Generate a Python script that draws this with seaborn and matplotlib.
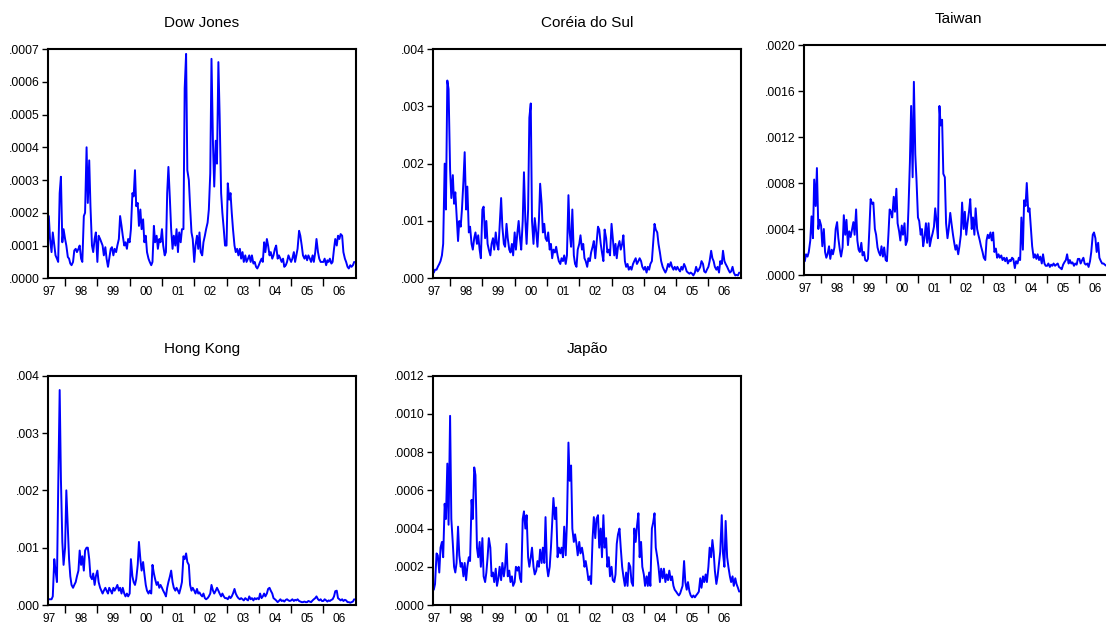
import numpy as np
import pandas as pd
import matplotlib
matplotlib.use("Agg")
import matplotlib.pyplot as plt
import seaborn as sns

sns.set_theme(style="white")
plt.rcParams["font.family"] = ["Liberation Sans", "DejaVu Sans"]

# Semi-monthly conditional variance estimates, Jul 1997 - Dec 2006
# (values in units of 1e-4 for Dow, Taiwan, Japan; 1e-3 for Korea, Hong Kong)
dow_jones = [
    1.9, 1.2, 0.8, 1.4, 1.0, 0.7, 0.6, 0.5, 2.6, 3.1, 1.1, 1.5,
    1.2, 1.0, 0.65, 0.6, 0.45, 0.4, 0.5, 0.85, 0.9, 0.8, 0.9, 1.0,
    0.6, 0.5, 1.9, 2.0, 4.0, 2.3, 3.6, 2.2, 1.0, 0.8, 1.2, 1.4,
    0.5, 1.3, 1.2, 1.1, 1.0, 0.7, 0.95, 0.6, 0.35, 0.6, 0.9, 0.95,
    0.7, 0.9, 0.8, 1.0, 1.2, 1.9, 1.6, 1.3, 1.0, 1.1, 0.9, 1.2,
    1.1, 1.5, 2.6, 2.5, 3.3, 2.2, 2.3, 1.6, 2.1, 1.5, 1.8, 1.1,
    1.3, 0.8, 0.6, 0.5, 0.4, 0.5, 1.6, 1.1, 1.3, 0.9, 1.2, 1.1,
    1.5, 1.0, 0.7, 0.8, 2.6, 3.4, 2.4, 1.5, 0.9, 1.3, 1.0, 1.5,
    0.8, 1.4, 1.1, 1.5, 1.5, 5.8, 6.85, 3.3, 3.0, 2.2, 1.4, 1.2,
    0.5, 1.0, 1.3, 0.9, 1.4, 0.8, 0.7, 1.1, 1.3, 1.5, 1.7, 2.1,
    3.2, 6.7, 4.1, 2.8, 4.2, 3.5, 6.6, 5.0, 2.6, 2.0, 1.5, 1.0,
    1.0, 2.9, 2.4, 2.6, 2.0, 1.5, 1.0, 0.8, 0.9, 0.7, 0.9, 0.6,
    0.8, 0.5, 0.7, 0.5, 0.6, 0.7, 0.5, 0.7, 0.45, 0.5, 0.35, 0.3,
    0.4, 0.5, 0.6, 0.5, 1.1, 0.8, 1.2, 1.0, 0.7, 0.8, 0.6, 0.7,
    0.9, 1.0, 0.6, 0.7, 0.6, 0.5, 0.6, 0.35, 0.4, 0.5, 0.7, 0.6,
    0.5, 0.6, 0.8, 0.5, 0.7, 0.9, 1.45, 1.3, 1.0, 0.7, 0.6, 0.7,
    0.55, 0.7, 0.6, 0.5, 0.7, 0.5, 0.8, 1.2, 0.8, 0.6, 0.5, 0.5,
    0.5, 0.6, 0.4, 0.55, 0.5, 0.6, 0.45, 0.5, 0.9, 1.2, 1.0, 1.3,
    1.2, 1.35, 1.3, 0.8, 0.6, 0.5, 0.35, 0.3, 0.4, 0.35, 0.4, 0.5,
]

coreia_do_sul = [
    0.1, 0.15, 0.15, 0.2, 0.25, 0.3, 0.4, 0.6, 2.0, 1.2, 3.45, 3.3,
    1.9, 1.4, 1.8, 1.3, 1.5, 1.1, 0.65, 1.0, 0.9, 1.2, 1.7, 2.2,
    1.2, 1.6, 0.8, 0.9, 0.6, 0.5, 0.7, 0.8, 0.6, 0.75, 0.5, 0.35,
    1.2, 1.25, 0.7, 1.0, 0.6, 0.5, 0.4, 0.6, 0.7, 0.5, 0.8, 0.6,
    0.5, 0.9, 1.4, 0.9, 0.6, 0.55, 0.95, 0.7, 0.5, 0.45, 0.6, 0.4,
    0.8, 0.5, 0.8, 1.0, 0.7, 0.5, 1.0, 1.85, 1.0, 0.6, 1.2, 2.8,
    3.05, 1.0, 0.6, 1.05, 0.8, 0.55, 1.0, 1.65, 1.3, 0.8, 0.95, 0.7,
    0.65, 0.8, 0.5, 0.6, 0.35, 0.5, 0.45, 0.55, 0.4, 0.3, 0.25, 0.35,
    0.3, 0.4, 0.25, 0.4, 1.45, 0.8, 0.55, 1.2, 0.4, 0.25, 0.2, 0.5,
    0.6, 0.75, 0.5, 0.6, 0.35, 0.3, 0.2, 0.35, 0.3, 0.45, 0.55, 0.65,
    0.35, 0.6, 0.9, 0.85, 0.6, 0.45, 0.3, 0.85, 0.7, 0.45, 0.5, 0.4,
    0.95, 0.7, 0.4, 0.6, 0.35, 0.55, 0.65, 0.5, 0.6, 0.75, 0.3, 0.2,
    0.25, 0.15, 0.2, 0.15, 0.25, 0.3, 0.35, 0.25, 0.3, 0.35, 0.3, 0.2,
    0.15, 0.2, 0.1, 0.2, 0.15, 0.25, 0.3, 0.6, 0.95, 0.85, 0.8, 0.6,
    0.45, 0.3, 0.2, 0.15, 0.1, 0.15, 0.25, 0.2, 0.28, 0.2, 0.15, 0.2,
    0.15, 0.2, 0.15, 0.12, 0.2, 0.15, 0.25, 0.2, 0.12, 0.1, 0.08, 0.1,
    0.08, 0.05, 0.1, 0.2, 0.12, 0.15, 0.2, 0.3, 0.25, 0.12, 0.1, 0.15,
    0.2, 0.3, 0.48, 0.35, 0.3, 0.2, 0.15, 0.2, 0.1, 0.3, 0.25, 0.48,
    0.3, 0.25, 0.2, 0.15, 0.1, 0.12, 0.2, 0.1, 0.05, 0.06, 0.05, 0.1,
]

taiwan = [
    1.2, 1.8, 1.6, 2.0, 3.0, 5.1, 3.2, 8.3, 6.0, 9.3, 4.0, 4.8,
    4.3, 2.5, 4.0, 2.0, 1.5, 1.8, 2.5, 1.4, 2.2, 1.8, 2.4, 4.0,
    4.6, 3.2, 2.2, 1.6, 2.4, 5.2, 3.5, 4.8, 2.6, 3.8, 3.3, 3.9,
    4.6, 3.5, 5.7, 3.0, 2.2, 2.0, 2.8, 1.7, 2.0, 1.3, 1.2, 1.4,
    4.0, 6.6, 6.2, 6.3, 4.0, 3.5, 2.4, 2.0, 1.7, 2.5, 1.6, 2.4,
    1.3, 1.2, 3.5, 5.7, 5.5, 5.0, 6.8, 5.5, 7.5, 4.5, 3.8, 3.0,
    4.3, 3.5, 4.5, 2.6, 3.0, 5.8, 9.8, 14.7, 8.5, 16.8, 10.5, 8.2,
    5.0, 4.7, 3.5, 4.0, 2.5, 3.2, 4.5, 2.8, 4.5, 2.5, 3.2, 3.6,
    4.2, 5.8, 4.5, 3.2, 14.7, 13.0, 13.5, 8.8, 8.5, 4.5, 3.2, 4.0,
    5.4, 4.5, 3.5, 2.8, 2.2, 2.6, 1.8, 2.5, 3.5, 6.3, 4.0, 5.5,
    3.5, 4.5, 5.5, 6.6, 4.0, 5.0, 3.5, 5.8, 4.0, 3.5, 3.0, 2.5,
    2.0, 1.5, 1.3, 3.0, 3.5, 3.2, 3.7, 3.0, 3.7, 2.0, 2.3, 1.5,
    1.8, 1.5, 1.7, 1.3, 1.5, 1.2, 1.5, 1.0, 1.3, 1.2, 1.5, 1.4,
    0.6, 1.2, 1.0, 1.5, 1.3, 5.0, 2.2, 6.5, 6.0, 8.0, 5.5, 5.8,
    4.0, 2.5, 1.5, 1.8, 1.4, 1.8, 1.3, 1.6, 1.0, 1.8, 1.0, 0.8,
    0.8, 1.0, 0.7, 0.9, 0.8, 1.0, 0.8, 0.9, 1.0, 0.7, 0.6, 0.5,
    0.9, 1.1, 1.3, 1.8, 1.0, 1.3, 1.0, 1.1, 0.8, 1.0, 0.9, 1.4,
    1.4, 1.0, 1.3, 1.5, 1.0, 0.9, 1.0, 0.7, 1.2, 2.0, 3.5, 3.7,
    3.2, 2.0, 2.8, 1.5, 1.2, 1.0, 1.0, 0.9, 0.8, 1.0, 0.9, 0.9,
]

hong_kong = [
    0.1, 0.1, 0.1, 0.15, 0.8, 0.6, 0.4, 2.0, 3.75, 2.2, 1.1, 0.7,
    1.0, 2.0, 1.35, 0.8, 0.5, 0.35, 0.3, 0.35, 0.4, 0.5, 0.6, 0.95,
    0.7, 0.85, 0.6, 0.95, 1.0, 1.0, 0.8, 0.5, 0.45, 0.55, 0.35, 0.5,
    0.6, 0.4, 0.3, 0.25, 0.2, 0.25, 0.3, 0.25, 0.2, 0.3, 0.25, 0.2,
    0.3, 0.25, 0.3, 0.35, 0.25, 0.3, 0.2, 0.3, 0.2, 0.15, 0.2, 0.15,
    0.2, 0.8, 0.5, 0.4, 0.35, 0.45, 0.7, 1.1, 0.8, 0.6, 0.75, 0.55,
    0.35, 0.25, 0.2, 0.25, 0.2, 0.7, 0.55, 0.45, 0.35, 0.4, 0.3, 0.35,
    0.3, 0.25, 0.2, 0.15, 0.3, 0.4, 0.5, 0.6, 0.4, 0.3, 0.25, 0.3,
    0.25, 0.2, 0.3, 0.4, 0.85, 0.8, 0.9, 0.75, 0.7, 0.35, 0.25, 0.3,
    0.25, 0.2, 0.28, 0.2, 0.22, 0.18, 0.15, 0.2, 0.12, 0.1, 0.12, 0.15,
    0.2, 0.35, 0.25, 0.2, 0.25, 0.3, 0.25, 0.2, 0.15, 0.2, 0.15, 0.12,
    0.12, 0.1, 0.15, 0.12, 0.15, 0.2, 0.28, 0.2, 0.15, 0.12, 0.1, 0.12,
    0.1, 0.08, 0.12, 0.1, 0.08, 0.15, 0.1, 0.12, 0.08, 0.12, 0.1, 0.12,
    0.1, 0.2, 0.12, 0.15, 0.2, 0.15, 0.2, 0.28, 0.3, 0.25, 0.2, 0.12,
    0.1, 0.08, 0.05, 0.07, 0.1, 0.07, 0.08, 0.06, 0.09, 0.1, 0.08, 0.07,
    0.08, 0.1, 0.07, 0.09, 0.08, 0.1, 0.07, 0.06, 0.05, 0.05, 0.06, 0.05,
    0.05, 0.07, 0.06, 0.05, 0.08, 0.1, 0.12, 0.15, 0.1, 0.08, 0.1, 0.07,
    0.07, 0.1, 0.08, 0.06, 0.08, 0.07, 0.09, 0.1, 0.15, 0.24, 0.25, 0.12,
    0.1, 0.08, 0.1, 0.07, 0.09, 0.08, 0.05, 0.05, 0.04, 0.05, 0.06, 0.1,
]

japao = [
    0.8, 1.1, 2.7, 2.6, 1.7, 3.0, 3.3, 2.5, 5.3, 4.5, 7.4, 4.2,
    9.9, 4.5, 3.2, 2.0, 1.7, 2.2, 4.1, 2.6, 2.0, 2.2, 1.5, 2.2,
    1.3, 2.0, 2.5, 2.3, 5.5, 4.5, 7.2, 6.8, 3.0, 2.5, 3.3, 2.0,
    3.5, 1.5, 1.2, 1.7, 2.5, 3.5, 3.0, 1.5, 1.7, 1.2, 1.9, 1.0,
    1.4, 2.0, 1.3, 2.2, 1.5, 2.0, 3.2, 1.5, 1.8, 1.2, 1.5, 1.0,
    1.2, 2.0, 1.8, 2.0, 1.4, 1.2, 4.5, 4.9, 4.0, 4.7, 2.5, 2.0,
    2.5, 3.0, 2.0, 1.6, 1.8, 2.3, 2.0, 2.9, 2.2, 3.0, 2.2, 4.6,
    2.0, 1.5, 2.0, 3.0, 4.3, 5.6, 4.5, 5.1, 2.5, 3.0, 2.7, 3.0,
    2.5, 4.1, 2.6, 4.3, 8.5, 6.5, 7.3, 4.0, 3.3, 3.7, 3.2, 2.6,
    3.3, 2.7, 3.0, 2.6, 2.0, 2.3, 1.8, 1.3, 1.5, 1.1, 3.5, 4.6,
    3.5, 4.5, 4.7, 3.0, 4.0, 2.5, 4.7, 3.0, 3.5, 2.0, 2.5, 1.5,
    2.0, 1.3, 1.2, 1.6, 3.2, 3.7, 4.0, 3.0, 2.0, 1.5, 1.0, 1.7,
    1.0, 2.2, 2.0, 1.2, 1.0, 4.0, 3.3, 4.1, 4.8, 2.5, 3.3, 2.0,
    1.6, 1.0, 1.5, 1.0, 1.7, 1.0, 4.0, 4.3, 4.8, 3.0, 2.5, 2.0,
    1.2, 1.9, 1.4, 1.9, 1.2, 1.6, 1.3, 1.8, 1.3, 1.5, 1.0, 0.8,
    0.7, 0.6, 0.5, 0.6, 0.8, 1.0, 2.3, 1.2, 0.8, 1.2, 0.7, 0.5,
    0.4, 0.5, 0.4, 0.5, 0.6, 0.7, 1.4, 0.9, 1.5, 1.2, 1.6, 1.2,
    2.0, 3.0, 2.5, 3.4, 2.8, 1.8, 1.1, 1.5, 2.2, 2.8, 4.7, 2.7,
    2.0, 4.4, 2.5, 2.0, 1.5, 1.2, 1.5, 1.0, 1.4, 1.1, 0.9, 0.7,
]

titles = ["Dow Jones", "Coréia do Sul", "Taiwan", "Hong Kong", "Japão"]
series = [dow_jones, coreia_do_sul, taiwan, hong_kong, japao]
scales = [1e-4, 1e-3, 1e-4, 1e-3, 1e-4]
y_max = [0.0007, 0.004, 0.0020, 0.004, 0.0012]
y_step = [0.0001, 0.001, 0.0004, 0.001, 0.0002]
y_decimals = [4, 3, 4, 3, 4]
year_labels = ["97", "98", "99", "00", "01", "02", "03", "04", "05", "06"]

dates = pd.date_range("1997-07-01", periods=len(dow_jones), freq="SMS")
frac_year = (dates.year + (dates.dayofyear - 1) / 365.25).to_numpy()

W, H = 1106, 627
fig = plt.figure(figsize=(W / 100, H / 100), dpi=100)
fig.patch.set_facecolor("white")

# panel boxes in pixels: left, top, right, bottom
boxes = [
    (48.3, 49.0, 355.7, 278.3),
    (433.3, 49.0, 740.7, 278.3),
    (804.3, 45.0, 1111.7, 275.0),
    (48.3, 375.7, 355.7, 605.0),
    (433.3, 375.7, 740.7, 605.0),
]

for (l, t, r, b), name, vals, sc, ym, ys, nd in zip(
        boxes, titles, series, scales, y_max, y_step, y_decimals):
    ax = fig.add_axes([l / W, 1 - b / H, (r - l) / W, (b - t) / H])
    df = pd.DataFrame({"t": frac_year, "v": np.asarray(vals) * sc})
    sns.lineplot(data=df, x="t", y="v", ax=ax, color="#0000ff",
                 linewidth=1.4, estimator=None)
    ax.set_xlim(1997.48, 2007.0)
    ax.set_ylim(0, ym)
    ax.set_xlabel("")
    ax.set_ylabel("")

    yt = np.round(np.arange(0, ym + ys / 2, ys), 6)
    ax.set_yticks(yt)
    ax.set_yticklabels([f"{v:.{nd}f}"[1:] for v in yt])

    years = np.arange(1998, 2007)
    ax.set_xticks(years)
    ax.set_xticklabels([])
    ax.set_xticks(np.arange(1997.5, 2007.0, 1.0), minor=True)
    ax.set_xticklabels(year_labels, minor=True)

    ax.tick_params(axis="x", which="major", direction="out", length=6,
                   width=1.0, color="black", bottom=True)
    ax.tick_params(axis="x", which="minor", length=0, pad=5.5,
                   labelsize=8.6, labelcolor="black", bottom=True)
    ax.tick_params(axis="y", which="major", direction="out", length=4,
                   width=1.0, color="black", pad=2, labelsize=8.8,
                   labelcolor="black", left=True)
    for sp in ax.spines.values():
        sp.set_visible(True)
        sp.set_color("black")
        sp.set_linewidth(1.5)
    ax.set_facecolor("white")
    ax.grid(False)
    ax.set_title(name, fontsize=11, pad=16, color="black")

fig.savefig("out.png", dpi=100, facecolor="white")
